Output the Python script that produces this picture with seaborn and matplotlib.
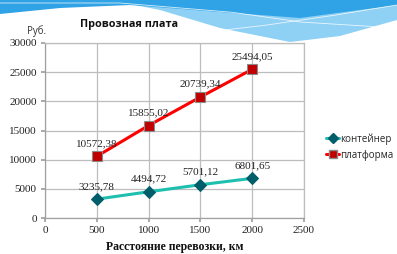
import numpy as np
import pandas as pd
import matplotlib
matplotlib.use("Agg")
import matplotlib.pyplot as plt
import seaborn as sns
from matplotlib.lines import Line2D

# ---- data ----
distance = [500, 1000, 1500, 2000]
container = [3235.78, 4494.72, 5701.12, 6801.65]
platform = [10572.38, 15855.02, 20739.34, 25494.05]
container_labels = ["3235,78", "4494,72", "5701,12", "6801,65"]
platform_labels = ["10572,38", "15855,02", "20739,34", "25494,05"]
series_names = ["контейнер", "платформа"]
x_ticks = [0, 500, 1000, 1500, 2000, 2500]
y_ticks = [0, 5000, 10000, 15000, 20000, 25000, 30000]

df = pd.DataFrame({
    "x": distance * 2,
    "y": container + platform,
    "s": [series_names[0]] * 4 + [series_names[1]] * 4,
})

sns.set_theme(style="white")
plt.rcParams["font.family"] = ["DejaVu Sans"]

W, H = 397, 254
fig = plt.figure(figsize=(W / 100, H / 100), dpi=100)
fig.patch.set_facecolor("white")

# ---- decorative wave in the background (figure pixel coords) ----
bg = fig.add_axes([0, 0, 1, 1], zorder=-10)
bg.set_xlim(0, W)
bg.set_ylim(H, 0)
bg.axis("off")
xs = np.linspace(0, W, 200)
lo = np.interp(xs, [0, 110, 160, 220, 290, 340, 397], [0, 0, 10, 28, 42, 36, 20])
bg.fill_between(xs, 0, lo, color="#8fd0f5", lw=0)
lo2 = np.interp(xs, [0, 60, 130, 220, 300, 397], [14, 8, 5, 12, 18, 5])
bg.fill_between(xs, 0, lo2, color="#2fa3e6", lw=0)
bg.plot(xs, np.interp(xs, [120, 230, 300, 397], [3, 12, 22, 28]), color="white", lw=0.6, alpha=0.8)
bg.plot(xs, np.interp(xs, [180, 260, 330, 397], [35, 26, 16, 5]), color="white", lw=0.6, alpha=0.8)

# ---- main axes ----
ax = fig.add_axes([45 / W, 1 - 218 / H, (304 - 45) / W, (218 - 43) / H])
ax.set_facecolor("none")

sns.lineplot(data=df[df.s == series_names[0]], x="x", y="y", ax=ax,
             color="#1fbfb0", lw=2.2, marker="D", markersize=6,
             markerfacecolor="#005e6a", markeredgecolor="#005e6a", legend=False)
sns.lineplot(data=df[df.s == series_names[1]], x="x", y="y", ax=ax,
             color="#ff0000", lw=2.2, marker="s", markersize=7,
             markerfacecolor="#c00000", markeredgecolor="#8a8a8a", markeredgewidth=0.8,
             legend=False)

serif = "Liberation Serif"
for xv, yv, lab in zip(distance, container, container_labels):
    ax.annotate(lab, (xv, yv), xytext=(0, 6), textcoords="offset points",
                ha="center", va="bottom", fontsize=8, family=serif, color="#222222")
for xv, yv, lab in zip(distance, platform, platform_labels):
    ax.annotate(lab, (xv, yv), xytext=(0, 6), textcoords="offset points",
                ha="center", va="bottom", fontsize=8, family=serif, color="#222222")

ax.set_xlim(0, 2500)
ax.set_ylim(0, 30000)
ax.set_xticks(x_ticks)
ax.set_yticks(y_ticks)
ax.set_xticklabels([str(v) for v in x_ticks], family=serif, fontsize=8, color="#222222")
ax.set_yticklabels([str(v) for v in y_ticks], family=serif, fontsize=8, color="#222222")
ax.grid(True, color="#bdbdbd", lw=0.9)
ax.set_axisbelow(True)
for side in ["top", "right"]:
    ax.spines[side].set_visible(True)
    ax.spines[side].set_color("#bdbdbd")
    ax.spines[side].set_linewidth(0.9)
for side in ["left", "bottom"]:
    ax.spines[side].set_color("#a0a0a0")
    ax.spines[side].set_linewidth(0.9)
ax.tick_params(axis="both", length=3, color="#a0a0a0", direction="out", pad=3,
               left=True, bottom=True)
ax.set_xlabel("Расстояние перевозки, км", family=serif, fontweight="bold",
              fontsize=8.5, color="#111111")
ax.xaxis.set_label_coords((175 - 45) / (304 - 45), -0.13)
ax.set_ylabel("")

fig.text(129 / W, 1 - 25 / H, "Провозная плата", ha="center", va="center",
         fontsize=7.8, fontweight="bold", family="Open Sans", color="#111111")
fig.text(37 / W, 1 - 31 / H, "Руб.", ha="center", va="center",
         fontsize=7, family="Open Sans", color="#333333")

handles = [
    Line2D([], [], color="#1fbfb0", lw=2.2, marker="D", markersize=5,
           markerfacecolor="#005e6a", markeredgecolor="#005e6a"),
    Line2D([], [], color="#ff0000", lw=2.2, marker="s", markersize=6,
           markerfacecolor="#c00000", markeredgecolor="#8a8a8a"),
]
fig.legend(handles, series_names, loc="center left",
           bbox_to_anchor=(317 / W, 1 - 147 / H), frameon=False,
           handlelength=1.4, handletextpad=0.1, labelspacing=0.5,
           prop={"family": "Open Sans", "size": 7})

fig.savefig("out.png", dpi=100, facecolor="white")
